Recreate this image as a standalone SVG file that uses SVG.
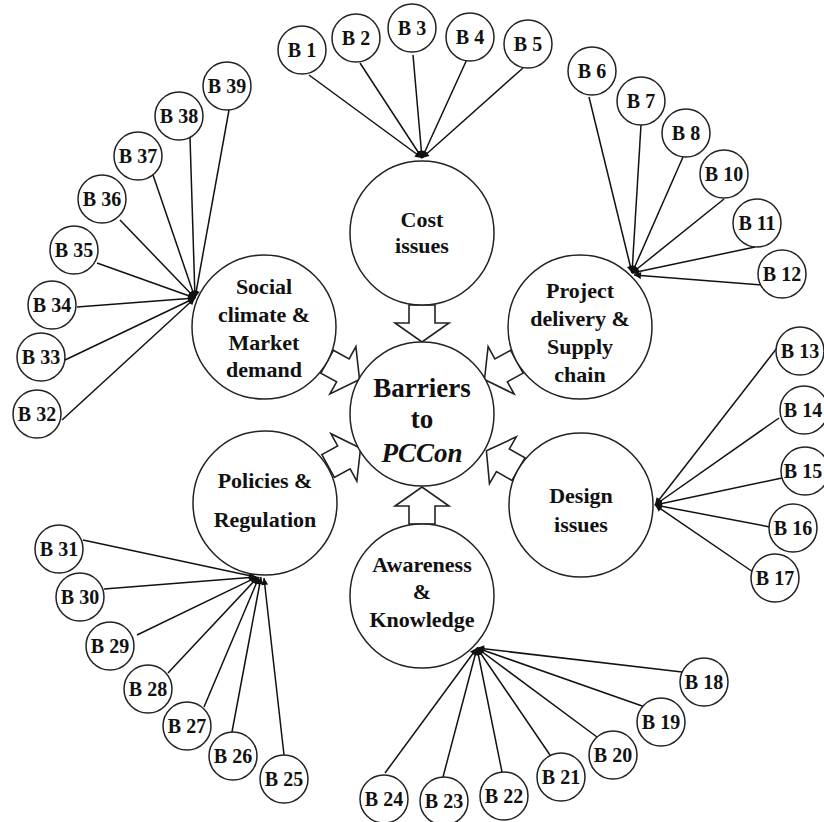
<svg xmlns="http://www.w3.org/2000/svg" width="824" height="822" viewBox="0 0 824 822">
<style>
text{font-family:"Liberation Serif","Times New Roman",serif;font-weight:bold;text-anchor:middle;fill:#111}
.big{fill:#fff;stroke:#222;stroke-width:1.5}
.sm{fill:#fff;stroke:#222;stroke-width:1.5}
.bt{font-size:22px}
.st{font-size:20px}
.blk{fill:#fff;stroke:#222;stroke-width:1.6;stroke-linejoin:miter}
#edges line{stroke:#111;stroke-width:1.5;marker-end:url(#ah)}
</style>
<defs>
<marker id="ah" viewBox="0 0 10 10" refX="10" refY="5" markerUnits="userSpaceOnUse" markerWidth="9" markerHeight="7" orient="auto">
<path d="M0,0 L10,5 L0,10 Z" fill="#111"/>
</marker>
<path id="blkarrow" class="blk" d="M0,-13 L18,-13 L18,-27 L37,0 L18,27 L18,13 L0,13 Z"/>
</defs>
<rect width="824" height="822" fill="#fff"/>

<g id="edges">
<line x1="309" y1="75" x2="422" y2="158"/>
<line x1="360" y1="63" x2="422" y2="158"/>
<line x1="413" y1="55" x2="422" y2="158"/>
<line x1="468" y1="57" x2="422" y2="158"/>
<line x1="523" y1="68" x2="422" y2="158"/>

<line x1="589" y1="97" x2="632" y2="273"/>
<line x1="641" y1="125" x2="632" y2="273"/>
<line x1="683" y1="157" x2="632" y2="273"/>
<line x1="724" y1="199" x2="632" y2="273"/>
<line x1="755" y1="247" x2="632" y2="273"/>
<line x1="762" y1="285" x2="634" y2="275"/>

<line x1="229" y1="110" x2="195" y2="298"/>
<line x1="190" y1="137" x2="195" y2="298"/>
<line x1="152" y1="172" x2="195" y2="298"/>
<line x1="120" y1="220" x2="195" y2="298"/>
<line x1="97" y1="263" x2="195" y2="298"/>
<line x1="77" y1="307" x2="195" y2="298"/>
<line x1="65" y1="360" x2="195" y2="298"/>
<line x1="62" y1="420" x2="195" y2="298"/>

<line x1="777" y1="348" x2="655" y2="505"/>
<line x1="779" y1="418" x2="655" y2="505"/>
<line x1="782" y1="478" x2="655" y2="505"/>
<line x1="770" y1="527" x2="655" y2="505"/>
<line x1="753" y1="572" x2="655" y2="505"/>

<line x1="682" y1="672" x2="477" y2="648"/>
<line x1="645" y1="707" x2="477" y2="648"/>
<line x1="597" y1="737" x2="477" y2="648"/>
<line x1="550" y1="755" x2="477" y2="648"/>
<line x1="502" y1="772" x2="477" y2="648"/>
<line x1="443" y1="777" x2="477" y2="648"/>
<line x1="385" y1="773" x2="477" y2="648"/>

<line x1="83" y1="540" x2="256" y2="577"/>
<line x1="104" y1="589" x2="256" y2="577"/>
<line x1="137" y1="635" x2="257" y2="577"/>
<line x1="168" y1="673" x2="258" y2="577"/>
<line x1="204" y1="707" x2="259" y2="577"/>
<line x1="232" y1="732" x2="261" y2="577"/>
<line x1="284" y1="755" x2="264" y2="578"/>
</g>

<g id="block-arrows">
<use href="#blkarrow" transform="translate(422,305) rotate(90)"/>
<use href="#blkarrow" transform="translate(327.1,361.7) rotate(28.8)"/>
<use href="#blkarrow" transform="translate(516.9,361.7) rotate(151.2)"/>
<use href="#blkarrow" transform="translate(328.1,466) rotate(-28.7)"/>
<use href="#blkarrow" transform="translate(518.5,469.2) rotate(-150.2)"/>
<use href="#blkarrow" transform="translate(422,524) rotate(-90)"/>
</g>

<g id="barriers"><circle class="big" cx="422" cy="414" r="72"/>
<text x="422" y="397" style="font-size:27px">Barriers</text>
<text x="422" y="428" style="font-size:27px">to</text>
<text x="422" y="462" style="font-size:27px;font-style:italic">PCCon</text></g>

<g id="cost"><circle class="big" cx="422" cy="233" r="72"/>
<text class="bt" x="422" y="227">Cost</text><text class="bt" x="422" y="253">issues</text></g>

<g id="social"><circle class="big" cx="264" cy="327" r="72"/>
<text class="bt" x="264" y="294">Social</text><text class="bt" x="264" y="322">climate &amp;</text>
<text class="bt" x="264" y="350">Market</text><text class="bt" x="264" y="377">demand</text></g>

<g id="project"><circle class="big" cx="580" cy="327" r="72"/>
<text class="bt" x="580" y="298">Project</text><text class="bt" x="580" y="326">delivery &amp;</text>
<text class="bt" x="580" y="354">Supply</text><text class="bt" x="580" y="382">chain</text></g>

<g id="policies"><circle class="big" cx="265" cy="503" r="72"/>
<text class="bt" x="265" y="488">Policies &amp;</text><text class="bt" x="265" y="527">Regulation</text></g>

<g id="design"><circle class="big" cx="581" cy="505" r="72"/>
<text class="bt" x="581" y="503">Design</text><text class="bt" x="581" y="532">issues</text></g>

<g id="awareness"><circle class="big" cx="422" cy="596" r="72"/>
<text class="bt" x="422" y="572">Awareness</text><text class="bt" x="422" y="599">&amp;</text><text class="bt" x="422" y="627">Knowledge</text></g>

<g id="b1"><circle class="sm" cx="302" cy="50" r="24"/><text class="st" x="302" y="57">B 1</text></g>
<g id="b2"><circle class="sm" cx="356" cy="38" r="24"/><text class="st" x="356" y="45">B 2</text></g>
<g id="b3"><circle class="sm" cx="412" cy="28" r="24"/><text class="st" x="412" y="35">B 3</text></g>
<g id="b4"><circle class="sm" cx="470" cy="37" r="24"/><text class="st" x="470" y="44">B 4</text></g>
<g id="b5"><circle class="sm" cx="528" cy="44" r="24"/><text class="st" x="528" y="51">B 5</text></g>

<g id="b6"><circle class="sm" cx="592" cy="71" r="24"/><text class="st" x="592" y="78">B 6</text></g>
<g id="b7"><circle class="sm" cx="641" cy="101" r="24"/><text class="st" x="641" y="108">B 7</text></g>
<g id="b8"><circle class="sm" cx="686" cy="133" r="24"/><text class="st" x="686" y="140">B 8</text></g>
<g id="b10"><circle class="sm" cx="724" cy="174" r="24"/><text class="st" x="724" y="181">B 10</text></g>
<g id="b11"><circle class="sm" cx="757" cy="223" r="24"/><text class="st" x="757" y="230">B 11</text></g>
<g id="b12"><circle class="sm" cx="782" cy="274" r="24"/><text class="st" x="782" y="281">B 12</text></g>

<g id="b13"><circle class="sm" cx="800" cy="351" r="24"/><text class="st" x="800" y="358">B 13</text></g>
<g id="b14"><circle class="sm" cx="804" cy="410" r="24"/><text class="st" x="803" y="417">B 14</text></g>
<g id="b15"><circle class="sm" cx="805" cy="471" r="24"/><text class="st" x="803" y="478">B 15</text></g>
<g id="b16"><circle class="sm" cx="793" cy="528" r="24"/><text class="st" x="793" y="535">B 16</text></g>
<g id="b17"><circle class="sm" cx="775" cy="578" r="24"/><text class="st" x="775" y="585">B 17</text></g>

<g id="b18"><circle class="sm" cx="704" cy="682" r="24"/><text class="st" x="704" y="689">B 18</text></g>
<g id="b19"><circle class="sm" cx="661" cy="722" r="24"/><text class="st" x="661" y="729">B 19</text></g>
<g id="b20"><circle class="sm" cx="613" cy="755" r="24"/><text class="st" x="613" y="762">B 20</text></g>
<g id="b21"><circle class="sm" cx="561" cy="777" r="24"/><text class="st" x="561" y="784">B 21</text></g>
<g id="b22"><circle class="sm" cx="504" cy="796" r="24"/><text class="st" x="504" y="803">B 22</text></g>
<g id="b23"><circle class="sm" cx="444" cy="801" r="24"/><text class="st" x="444" y="808">B 23</text></g>
<g id="b24"><circle class="sm" cx="384" cy="799" r="24"/><text class="st" x="384" y="806">B 24</text></g>

<g id="b25"><circle class="sm" cx="284" cy="779" r="24"/><text class="st" x="284" y="786">B 25</text></g>
<g id="b26"><circle class="sm" cx="233" cy="756" r="24"/><text class="st" x="233" y="763">B 26</text></g>
<g id="b27"><circle class="sm" cx="187" cy="726" r="24"/><text class="st" x="187" y="733">B 27</text></g>
<g id="b28"><circle class="sm" cx="148" cy="689" r="24"/><text class="st" x="148" y="696">B 28</text></g>
<g id="b29"><circle class="sm" cx="110" cy="646" r="24"/><text class="st" x="110" y="653">B 29</text></g>
<g id="b30"><circle class="sm" cx="80" cy="597" r="24"/><text class="st" x="80" y="604">B 30</text></g>
<g id="b31"><circle class="sm" cx="59" cy="549" r="24"/><text class="st" x="59" y="556">B 31</text></g>

<g id="b32"><circle class="sm" cx="37" cy="414" r="24"/><text class="st" x="37" y="421">B 32</text></g>
<g id="b33"><circle class="sm" cx="41" cy="357" r="24"/><text class="st" x="41" y="364">B 33</text></g>
<g id="b34"><circle class="sm" cx="52" cy="305" r="24"/><text class="st" x="52" y="312">B 34</text></g>
<g id="b35"><circle class="sm" cx="74" cy="250" r="24"/><text class="st" x="74" y="257">B 35</text></g>
<g id="b36"><circle class="sm" cx="102" cy="199" r="24"/><text class="st" x="102" y="206">B 36</text></g>
<g id="b37"><circle class="sm" cx="138" cy="156" r="24"/><text class="st" x="138" y="163">B 37</text></g>
<g id="b38"><circle class="sm" cx="179" cy="116" r="24"/><text class="st" x="179" y="123">B 38</text></g>
<g id="b39"><circle class="sm" cx="227" cy="86" r="24"/><text class="st" x="227" y="93">B 39</text></g>
</svg>
